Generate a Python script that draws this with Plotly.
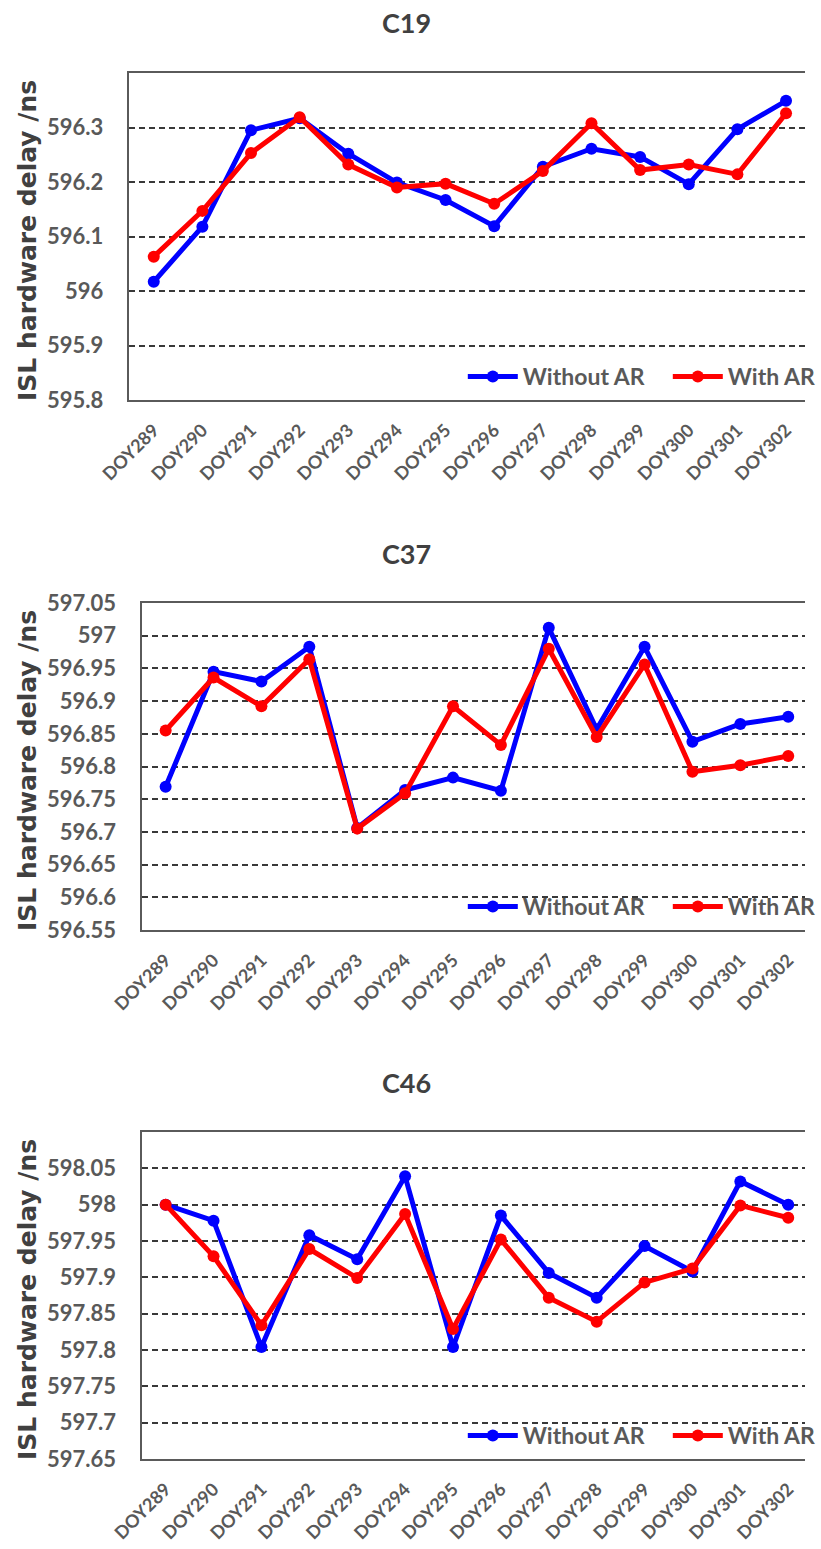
import plotly.graph_objects as go

# Day-of-year categories shared by all three panels
days = ["DOY289", "DOY290", "DOY291", "DOY292", "DOY293", "DOY294", "DOY295",
        "DOY296", "DOY297", "DOY298", "DOY299", "DOY300", "DOY301", "DOY302"]

# ISL hardware delay (ns) per satellite
c19_without_ar = [596.017, 596.118, 596.295, 596.317, 596.252, 596.199, 596.167,
                  596.119, 596.228, 596.261, 596.246, 596.196, 596.297, 596.349]
c19_with_ar = [596.063, 596.147, 596.253, 596.319, 596.232, 596.190, 596.197,
               596.160, 596.220, 596.308, 596.222, 596.232, 596.214, 596.326]

c37_without_ar = [596.769, 596.945, 596.930, 596.983, 596.706, 596.764, 596.783,
                  596.763, 597.012, 596.857, 596.983, 596.838, 596.865, 596.876]
c37_with_ar = [596.855, 596.936, 596.892, 596.964, 596.705, 596.759, 596.892,
               596.833, 596.980, 596.845, 596.956, 596.792, 596.802, 596.816]

c46_without_ar = [598.000, 597.978, 597.804, 597.958, 597.925, 598.039, 597.804,
                  597.985, 597.906, 597.872, 597.943, 597.908, 598.032, 598.000]
c46_with_ar = [598.000, 597.929, 597.834, 597.939, 597.899, 597.987, 597.829,
               597.952, 597.872, 597.839, 597.893, 597.912, 597.999, 597.982]

# Y tick values / labels per panel
c19_ticks = [595.8, 595.9, 596.0, 596.1, 596.2, 596.3]
c19_ticktext = ["595.8", "595.9", "596", "596.1", "596.2", "596.3"]
c37_ticks = [596.55, 596.6, 596.65, 596.7, 596.75, 596.8, 596.85, 596.9, 596.95, 597.0, 597.05]
c37_ticktext = ["596.55", "596.6", "596.65", "596.7", "596.75", "596.8", "596.85",
                "596.9", "596.95", "597", "597.05"]
c46_ticks = [597.65, 597.7, 597.75, 597.8, 597.85, 597.9, 597.95, 598.0, 598.05]
c46_ticktext = ["597.65", "597.7", "597.75", "597.8", "597.85", "597.9", "597.95",
                "598", "598.05"]

W, H = 821, 1549
BLUE, RED = "#0000FF", "#FF0000"
TXT = "#595959"
FONT = "Lato"


def py(px):
    """pixel row (from top) -> paper y"""
    return 1 - px / H


panels = [
    # name, without, with, ticks, ticktext, yrange, top px, bottom px, left px, xrange
    ("C19", c19_without_ar, c19_with_ar, c19_ticks, c19_ticktext, [595.8, 596.4], 73, 400, 132, [-0.5, 13.39]),
    ("C37", c37_without_ar, c37_with_ar, c37_ticks, c37_ticktext, [596.55, 597.05], 603, 930, 145, [-0.49, 13.35]),
    ("C46", c46_without_ar, c46_with_ar, c46_ticks, c46_ticktext, [597.65, 598.1], 1132, 1459, 145, [-0.49, 13.35]),
]

fig = go.Figure()
layout = dict(
    width=W, height=H,
    margin=dict(l=0, r=0, t=0, b=0, pad=0),
    paper_bgcolor="white", plot_bgcolor="white",
    showlegend=True,
    annotations=[], shapes=[],
)

for i, (name, wo, wi, tv, tt, yr, top, bot, left, xr) in enumerate(panels, start=1):
    sfx = "" if i == 1 else str(i)
    lg = "legend" if i == 1 else f"legend{i}"
    for label, vals, col, lw in (("Without AR", wo, BLUE, 140), ("With AR", wi, RED, None)):
        fig.add_trace(go.Scatter(
            x=days, y=vals, name=label, mode="lines+markers",
            line=dict(color=col, width=5),
            marker=dict(color=col, size=12, symbol="circle"),
            xaxis=f"x{sfx}", yaxis=f"y{sfx}", legend=lg, legendwidth=lw,
        ))

    layout[f"xaxis{sfx}"] = dict(
        domain=[left / W, 1.0], anchor=f"y{sfx}", automargin=False,
        type="category", range=xr,
        showline=True, mirror=True, linecolor="#5a5a5a", linewidth=1.5,
        showgrid=False, zeroline=False,
        ticks="", tickangle=-45, ticklabelstandoff=11,
        tickfont=dict(family=FONT, size=18, color=TXT, weight=700),
    )
    layout[f"yaxis{sfx}"] = dict(
        domain=[py(bot), py(top)], anchor=f"x{sfx}", automargin=False,
        range=yr, tickvals=tv, ticktext=tt,
        showline=True, mirror=False, linecolor="#5a5a5a", linewidth=1.5,
        showgrid=True, gridcolor="#383838", gridwidth=2, griddash="6px,4px",
        zeroline=False, ticks="", ticklabelstandoff=20,
        tickfont=dict(family=FONT, size=22, color=TXT, weight=700),
    )
    layout[lg] = dict(
        orientation="h", x=472 / W, xanchor="left",
        y=py(bot - 2), yanchor="bottom",
        bgcolor="rgba(0,0,0,0)", borderwidth=0,
        font=dict(family=FONT, size=23, color=TXT, weight=700),
        itemwidth=50, traceorder="normal",
    )
    # white patch behind the legend hides the gridlines there
    layout["shapes"].append(dict(
        type="rect", xref="paper", yref="paper", layer="between",
        x0=461 / W, x1=1.0, y0=py(bot - 1), y1=py(bot - 34),
        fillcolor="white", line=dict(width=0),
    ))
    # panel title
    layout["annotations"].append(dict(
        text=f"<b>{name}</b>", x=415 / W, y=py(top - 50), xref="paper", yref="paper",
        xanchor="center", yanchor="middle", showarrow=False,
        font=dict(family=FONT, size=27, color="#404040"),
    ))
    # y-axis title
    layout["annotations"].append(dict(
        text="<b>ISL hardware delay /ns</b>", x=28 / W, y=py((top + bot) / 2 + 4),
        xref="paper", yref="paper", xanchor="center", yanchor="middle",
        textangle=-90, showarrow=False,
        font=dict(family="DejaVu Sans", size=25, color="#404040"),
    ))

fig.update_layout(**layout)
fig.write_html("out.html")
